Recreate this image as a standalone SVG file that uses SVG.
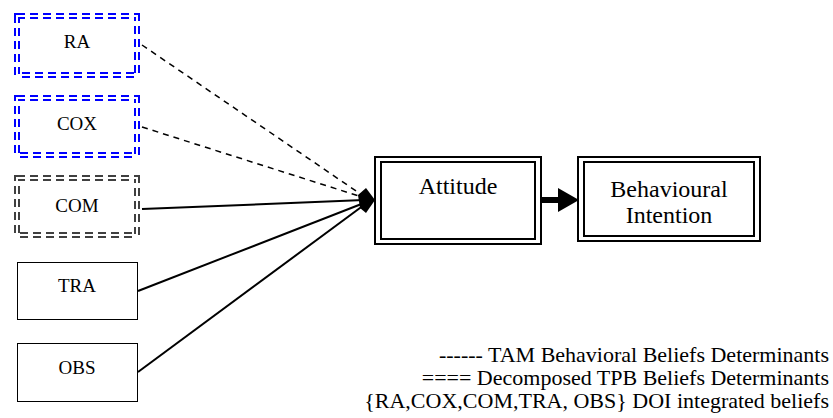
<svg xmlns="http://www.w3.org/2000/svg" width="833" height="418" viewBox="0 0 833 418">
<style>
text{font-family:"Liberation Serif","Times New Roman",serif;fill:#000}
.lbl{font-size:19px;text-anchor:middle}
.big{font-size:24px;text-anchor:middle}
.leg{font-size:22px;text-anchor:end}
.dd{fill:none;stroke-width:6;stroke-dasharray:8 5}
.ddw{fill:none;stroke:#fff;stroke-width:2}
.blue{stroke:#0000ff}
.gray{stroke:#404040}
.box{fill:#fff;stroke:#000;stroke-width:1}
.outer{fill:#fff;stroke:#000;stroke-width:2}
.inner{fill:none;stroke:#000;stroke-width:2}
.dash{fill:none;stroke:#000;stroke-width:1.5;stroke-dasharray:6 5}
.solid{fill:none;stroke:#000;stroke-width:2}
</style>
<rect width="833" height="418" fill="#fff"/>
<g id="connectors">
<line class="dash" x1="142" y1="45" x2="362" y2="195"/>
<line class="dash" x1="142" y1="127" x2="362" y2="197"/>
<line class="solid" x1="142" y1="209" x2="364" y2="200"/>
<line class="solid" x1="138" y1="291" x2="364" y2="203"/>
<line class="solid" x1="138" y1="372" x2="364" y2="205"/>
<polygon points="375,200 366,188 358,195 360,208 366,213" fill="#000"/>
<line x1="541" y1="200" x2="560" y2="200" stroke="#000" stroke-width="6"/>
<polygon points="579,200 558,188 558,212" fill="#000"/>
</g>
<g id="RA">
<rect class="dd blue" x="17" y="16" width="120" height="59"/>
<rect class="ddw" x="17" y="16" width="120" height="59"/>
<text class="lbl" x="77" y="48">RA</text>
</g>
<g id="COX">
<rect class="dd blue" x="17" y="98" width="120" height="57"/>
<rect class="ddw" x="17" y="98" width="120" height="57"/>
<text class="lbl" x="77" y="130">COX</text>
</g>
<g id="COM">
<rect class="dd gray" x="17" y="178" width="120" height="57"/>
<rect class="ddw" x="17" y="178" width="120" height="57"/>
<text class="lbl" x="77" y="212">COM</text>
</g>
<g id="TRA">
<rect class="box" x="17.5" y="262.5" width="120" height="57"/>
<text class="lbl" x="77" y="292">TRA</text>
</g>
<g id="OBS">
<rect class="box" x="17.5" y="343.5" width="120" height="58"/>
<text class="lbl" x="77" y="374">OBS</text>
</g>
<g id="Attitude">
<rect class="outer" x="375" y="157" width="166" height="87"/>
<rect class="inner" x="381" y="162" width="154" height="77"/>
<text class="big" x="458" y="194">Attitude</text>
</g>
<g id="BehaviouralIntention">
<rect class="outer" x="578" y="157" width="182" height="84"/>
<rect class="inner" x="584" y="162" width="170" height="74"/>
<text class="big" x="669" y="197">Behavioural</text>
<text class="big" x="669" y="223">Intention</text>
</g>
<g id="legend">
<text class="leg" x="829" y="362">------ TAM Behavioral Beliefs Determinants</text>
<text class="leg" x="829" y="385">==== Decomposed TPB Beliefs Determinants</text>
<text class="leg" x="829" y="408">{RA,COX,COM,TRA, OBS} DOI integrated beliefs</text>
</g>
</svg>
